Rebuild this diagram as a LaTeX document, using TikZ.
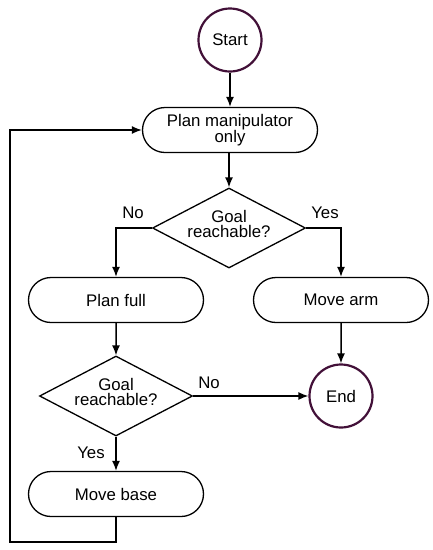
\documentclass[tikz,border=0pt]{standalone}
\usepackage{fontspec}
\setmainfont{Liberation Sans}
\usetikzlibrary{shapes.geometric,shapes.misc,arrows.meta}
\definecolor{circ}{RGB}{66,16,56}
\tikzset{
  every node/.style={font=\fontsize{16.8}{15}\selectfont, align=center, inner sep=0pt},
  term/.style={circle, draw=circ, line width=2.2pt, minimum size=63pt},
  proc/.style={rounded rectangle, draw, line width=1.3pt, minimum width=175pt, minimum height=45pt},
  decision/.style={diamond, draw, line width=1.3pt, minimum width=153pt, minimum height=80pt},
  dtext/.style={font=\fontsize{16.8}{14.5}\selectfont},
  conn/.style={line width=1.5pt, -{Latex[length=10pt,width=8pt]}},
  lbl/.style={font=\fontsize{16.8}{15}\selectfont}
}
\begin{document}
\begin{tikzpicture}[x=1pt,y=-1pt]
\useasboundingbox (0,0) rectangle (433,550);
\node[term] (start) at (230,40) {Start};
\node[proc] (plan1) at (230,130) {Plan manipulator\\only};
\node[decision] (d1) at (229,228) {};
\node[dtext] (d1t) at (229,224) {Goal\\reachable?};
\node[proc] (planfull) at (116,300) {Plan full};
\node[proc] (movearm) at (341,300) {Move arm};
\node[decision] (d2) at (116,396) {};
\node[dtext] (d2t) at (116,392) {Goal\\reachable?};
\node[term] (end) at (341,396) {End};
\node[proc] (movebase) at (116,494) {Move base};
\node[lbl] (no1) at (133,213) {No};
\node[lbl] (yes1) at (325,213) {Yes};
\node[lbl] (no2) at (209,383) {No};
\node[lbl] (yes2) at (91,453) {Yes};
\coordinate (fbB) at (116,542);
\coordinate (fbL) at (10,542);
\draw[conn] (start) -- (plan1.north -| start);
\draw[conn] (plan1.south -| d1) -- (d1);
\draw[conn] (d1.west) -| (planfull.north);
\draw[conn] (d1.east) -| (movearm.north);
\draw[conn] (planfull) -- (d2);
\draw[conn] (movearm) -- (end);
\draw[conn] (d2.east) -- (end.west);
\draw[conn] (d2.south) -- (movebase.north);
\draw[conn] (movebase.south) -- (fbB) -- (fbL) |- (plan1.west);
\end{tikzpicture}
\end{document}
